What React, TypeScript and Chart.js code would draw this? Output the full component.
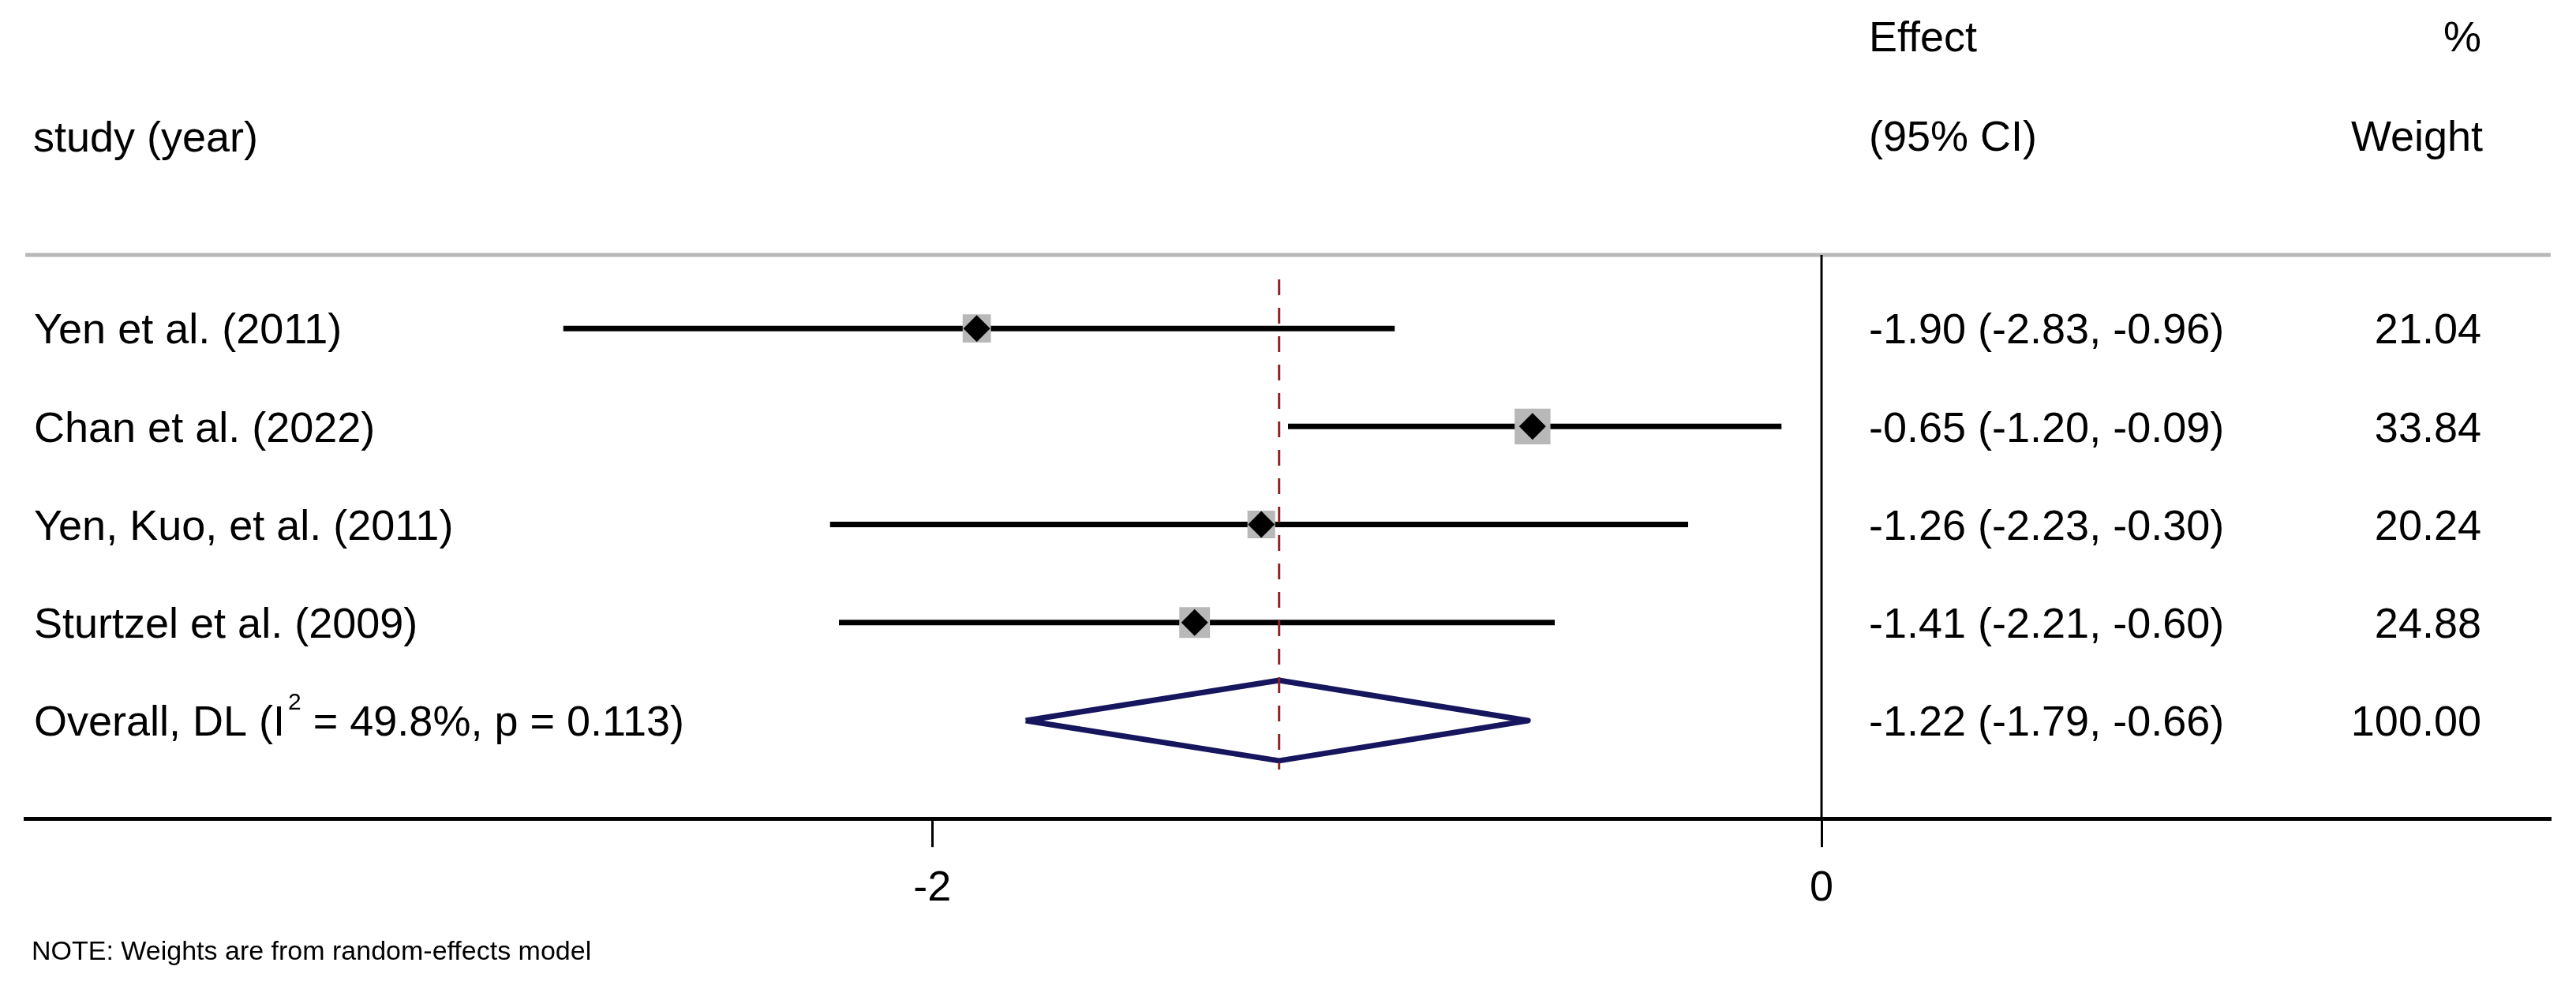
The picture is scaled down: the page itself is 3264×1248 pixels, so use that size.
import React, { useEffect, useRef } from "react";
import { Chart, registerables } from "chart.js";

Chart.register(...registerables);

// ---------------- data ----------------
const studies = ["Yen et al. (2011)", "Chan et al. (2022)", "Yen, Kuo, et al. (2011)", "Sturtzel et al. (2009)"];
const effects = [-1.9, -0.65, -1.26, -1.41];
const lowerCI = [-2.83, -1.2, -2.23, -2.21];
const upperCI = [-0.96, -0.09, -0.3, -0.6];
const weights = [21.04, 33.84, 20.24, 24.88];

const overallLabelStart = "Overall, DL (I";
const overallLabelSup = "2";
const overallLabelEnd = " = 49.8%, p = 0.113)";
const overallEffect = -1.22;
const overallLower = -1.79;
const overallUpper = -0.66;
const overallWeight = 100.0;

const xTickValues = [-2, 0];
const headerStudy = "study (year)";
const headerEffect = ["Effect", "(95% CI)"];
const headerWeight = ["%", "Weight"];
const noteText = "NOTE: Weights are from random-effects model";

// ---------------- layout / style ----------------
const W = 3264;
const H = 1248;
const FONT = '"Liberation Sans", Arial, Helvetica, sans-serif';
const FS = 54;
const X_MIN = -4.04;
const X_MAX = 1.64;
const Y_MIN = 0.25;
const Y_MAX = 6.0;
const BOX_SCALE = 7.8;
const DIAMOND_HALF = 0.41;

const rowPos = studies.map((_, i) => i + 1);
const overallRow = studies.length + 1;

const fmt = (v: number) => v.toFixed(2);

const textPlugin = {
  id: "forestText",
  beforeDraw(chart: any) {
    const { ctx } = chart;
    ctx.save();
    ctx.fillStyle = "#ffffff";
    ctx.fillRect(0, 0, chart.width, chart.height);
    ctx.restore();
  },
  beforeDatasetsDraw(chart: any) {
    const { ctx, chartArea } = chart;
    ctx.save();
    ctx.strokeStyle = "#b8b8b8";
    ctx.lineWidth = 5;
    ctx.beginPath();
    ctx.moveTo(chartArea.left, chartArea.top);
    ctx.lineTo(chartArea.right, chartArea.top);
    ctx.stroke();
    ctx.restore();
  },
  afterDraw(chart: any) {
    const { ctx } = chart;
    const ys = chart.scales.y;
    const effX = 2368;
    const wRight = 3144;
    const labelX = 43;
    const off = FS * 0.355;
    ctx.save();
    ctx.fillStyle = "#000";
    ctx.textBaseline = "alphabetic";
    ctx.font = `${FS}px ${FONT}`;

    // headers
    ctx.textAlign = "left";
    ctx.fillText(headerEffect[0], effX, 65);
    ctx.fillText(headerEffect[1], effX, 191);
    ctx.fillText(headerStudy, 42, 192);
    ctx.textAlign = "right";
    ctx.fillText(headerWeight[0], wRight, 65);
    ctx.fillText(headerWeight[1], wRight + 2, 191);

    // study rows
    studies.forEach((s, i) => {
      const y = ys.getPixelForValue(rowPos[i]) + off;
      ctx.textAlign = "left";
      ctx.fillText(s, labelX, y);
      ctx.fillText(`${fmt(effects[i])} (${fmt(lowerCI[i])}, ${fmt(upperCI[i])})`, effX, y);
      ctx.textAlign = "right";
      ctx.fillText(fmt(weights[i]), wRight, y);
    });

    // overall row
    const oy = ys.getPixelForValue(overallRow);
    const by = oy + off;
    ctx.textAlign = "left";
    ctx.fillText(overallLabelStart, labelX, by);
    let cx = labelX + ctx.measureText(overallLabelStart).width + 4;
    ctx.font = `30px ${FONT}`;
    ctx.fillText(overallLabelSup, cx, oy - 14);
    cx += ctx.measureText(overallLabelSup).width;
    ctx.font = `${FS}px ${FONT}`;
    ctx.fillText(overallLabelEnd, cx, by);
    ctx.fillText(`${fmt(overallEffect)} (${fmt(overallLower)}, ${fmt(overallUpper)})`, effX, by);
    ctx.textAlign = "right";
    ctx.fillText(fmt(overallWeight), wRight, by);

    // note
    ctx.textAlign = "left";
    ctx.font = `34px ${FONT}`;
    ctx.fillText(noteText, 40, 1216);
    ctx.restore();
  },
};

export default function App() {
  const ref = useRef<HTMLCanvasElement>(null);

  useEffect(() => {
    const canvas = ref.current;
    if (!canvas) return;

    const ciDatasets = studies.map((s, i) => ({
      label: s,
      data: [
        { x: lowerCI[i], y: rowPos[i] },
        { x: upperCI[i], y: rowPos[i] },
      ],
      showLine: true,
      borderColor: "#000000",
      borderWidth: 7,
      borderCapStyle: "butt",
      pointRadius: 0,
      order: 4,
    }));

    const datasets: any[] = [
      {
        label: "diamonds",
        data: effects.map((e, i) => ({ x: e, y: rowPos[i] })),
        pointStyle: "rectRot",
        pointRadius: 17,
        backgroundColor: "#000000",
        borderWidth: 0,
        pointBorderWidth: 0,
        order: 0,
      },
      {
        label: "boxes",
        data: effects.map((e, i) => ({ x: e, y: rowPos[i] })),
        pointStyle: "rect",
        pointRadius: weights.map((w) => (BOX_SCALE * Math.sqrt(w)) / Math.SQRT2),
        backgroundColor: "#b8b8b8",
        borderWidth: 0,
        pointBorderWidth: 0,
        order: 1,
      },
      {
        label: "overall line",
        data: [
          { x: overallEffect, y: 0.5 },
          { x: overallEffect, y: overallRow + 0.5 },
        ],
        showLine: true,
        borderColor: "#8f2222",
        borderWidth: 3,
        borderDash: [20, 16],
        pointRadius: 0,
        order: 2,
      },
      {
        label: "overall diamond",
        data: [
          { x: overallLower, y: overallRow },
          { x: overallEffect, y: overallRow - DIAMOND_HALF },
          { x: overallUpper, y: overallRow },
          { x: overallEffect, y: overallRow + DIAMOND_HALF },
          { x: overallLower, y: overallRow },
        ],
        showLine: true,
        borderColor: "#16165f",
        borderWidth: 7,
        borderJoinStyle: "round",
        pointRadius: 0,
        fill: false,
        order: 3,
      },
      ...ciDatasets,
      {
        label: "null line",
        data: [
          { x: 0, y: Y_MIN },
          { x: 0, y: Y_MAX },
        ],
        showLine: true,
        borderColor: "#000000",
        borderWidth: 3,
        pointRadius: 0,
        order: 6,
      },
    ];

    const chart = new Chart(canvas, {
      type: "scatter",
      data: { datasets },
      options: {
        responsive: false,
        maintainAspectRatio: false,
        devicePixelRatio: 1,
        animation: false,
        events: [],
        layout: { padding: { left: 23, right: 24, top: 323, bottom: 68 } },
        plugins: {
          legend: { display: false },
          tooltip: { enabled: false },
          title: { display: false },
        },
        scales: {
          x: {
            type: "linear",
            position: "bottom",
            min: X_MIN,
            max: X_MAX,
            afterBuildTicks: (scale: any) => {
              scale.ticks = xTickValues.map((v) => ({ value: v }));
            },
            grid: {
              drawOnChartArea: false,
              drawTicks: true,
              tickLength: 36,
              tickWidth: 3,
              tickColor: "#000000",
              color: "#000000",
              lineWidth: 3,
            },
            border: { display: true, color: "#000000", width: 5 },
            ticks: {
              color: "#000000",
              font: { family: FONT, size: FS },
              padding: 21,
              autoSkip: false,
              maxRotation: 0,
              callback: (v: any) => String(v),
            },
          },
          y: {
            type: "linear",
            display: false,
            min: Y_MIN,
            max: Y_MAX,
            reverse: true,
          },
        },
      } as any,
      plugins: [textPlugin],
    });

    return () => chart.destroy();
  }, []);

  return (
    <div style={{ position: "absolute", left: 0, top: 0, width: W, height: H, background: "#fff" }}>
      <canvas ref={ref} width={W} height={H} style={{ display: "block", width: W, height: H }} />
    </div>
  );
}
